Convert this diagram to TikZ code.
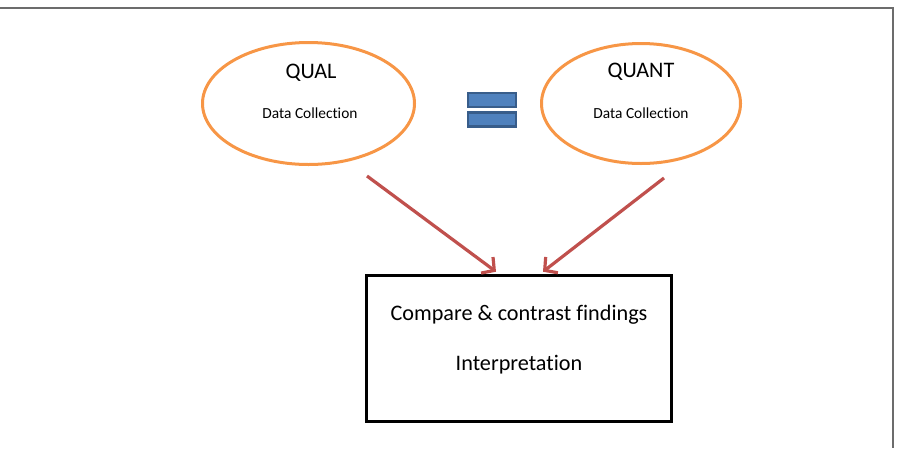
\documentclass[tikz,border=0pt]{standalone}
\usepackage{fontspec}
\setmainfont[Ligatures=NoCommon]{Carlito}
\usepackage{xcolor}
\usepackage{tikz}
\usetikzlibrary{shapes.geometric}
\usetikzlibrary{arrows.meta}
\definecolor{ovalorange}{HTML}{F79646}
\definecolor{arrowred}{HTML}{C0504D}
\definecolor{barblue}{HTML}{4F81BD}
\definecolor{baredge}{HTML}{385D8A}
\tikzset{
    strand/.style={ellipse, draw=ovalorange, line width=3pt, inner sep=0pt},
    eqbar/.style={draw=baredge, fill=barblue, line width=2.2pt, minimum width=48pt, minimum height=14pt, inner sep=0pt},
    merge/.style={draw=arrowred, line width=3.2pt, -{Straight Barb[length=9pt,width=20pt,line width=3.2pt]}},
    resultbox/.style={draw=black, line width=3.6pt, minimum width=305pt, minimum height=146pt, inner sep=0pt},
    bigtxt/.style={anchor=base, font=\fontsize{22.2}{26}\selectfont},
    smalltxt/.style={anchor=base, font=\fontsize{15.4}{18}\selectfont}
}
\begin{document}
\begin{tikzpicture}[x=1pt,y=-1pt]
		\useasboundingbox (0,0) rectangle (902,448);
		% frame
		\draw[gray!85!black, line width=1.4pt] (0,8) -- (893,8) -- (893,448);

		% qual strand
		\node[strand, minimum width=212pt, minimum height=122pt] (qual) at (308.5,103.5) {};
		\node[bigtxt] (qualname) at (311,78) {QUAL};
		\node[smalltxt] (qualdata) at (310,118) {Data Collection};

		% quant strand
		\node[strand, minimum width=199pt, minimum height=120pt] (quant) at (641,103.5) {};
		\node[bigtxt] (quantname) at (641,77) {QUANT};
		\node[smalltxt] (quantdata) at (641,118) {Data Collection};

		% equal weight
		\node[eqbar] (eqtop) at (492,100) {};
		\node[eqbar] (eqbot) at (492,119.5) {};

		% merging
		\node[resultbox] (merged) at (519,348.5) {};
		\node[bigtxt] (compare) at (519,320) {Compare \& contrast findings};
		\node[bigtxt] (interp) at (519,370) {Interpretation};

		\coordinate (qualfoot) at (367,176);
		\coordinate (quantfoot) at (664,178);
		\draw[merge] (qualfoot) -- ([xshift=-23pt,yshift=2pt]merged.north);
		\draw[merge] (quantfoot) -- ([xshift=24pt,yshift=2pt]merged.north);
	\end{tikzpicture}
\end{document}
